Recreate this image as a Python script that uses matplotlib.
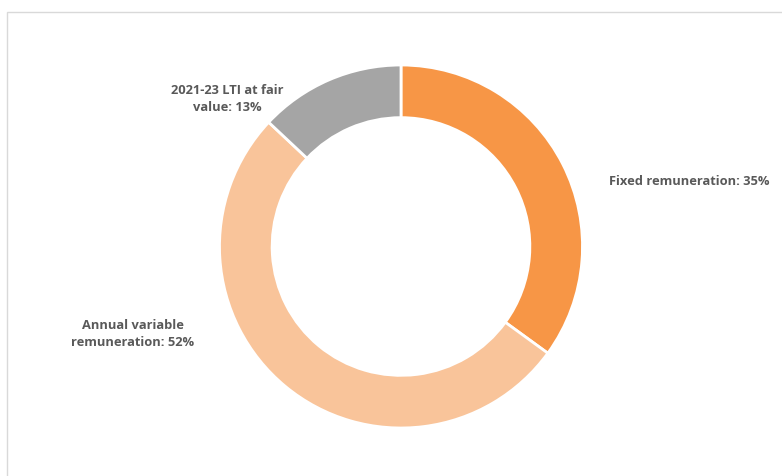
import matplotlib
matplotlib.use("Agg")
from matplotlib import pyplot as plt
from matplotlib.patches import Rectangle

# data
labels = ["Fixed remuneration: 35%", "Annual variable\nremuneration: 52%", "2021-23 LTI at fair\nvalue: 13%"]
shares = [35, 52, 13]
colors = ["#F79646", "#F9C49A", "#A5A5A5"]

W, H = 782, 476
fig = plt.figure(figsize=(W / 100, H / 100), dpi=100)
fig.patch.set_facecolor("white")

# light grey frame of the chart area
fig.patches.append(Rectangle((7 / W, -0.1), 1.0, 1.1 - 12 / H, transform=fig.transFigure,
                             fill=False, edgecolor="#D9D9D9", linewidth=1.0))

cx, cy, r = 401, 246.5, 181.5
ax = fig.add_axes([(cx - r) / W, (H - cy - r) / H, 2 * r / W, 2 * r / H])
ax.pie(shares, colors=colors, startangle=90, counterclock=False, radius=1.0,
       wedgeprops=dict(width=0.29, edgecolor="white", linewidth=2))
ax.set_xlim(-1, 1)
ax.set_ylim(-1, 1)
ax.set_aspect("equal")
ax.axis("off")

font = dict(fontsize=9.3, fontweight="bold", color="#595959", family="Open Sans",
            linespacing=1.4)
ax.text(1.146, 0.357, labels[0], ha="left", va="center", **font)
ax.text(-1.479, -0.482, labels[1], ha="center", va="center", **font)
ax.text(-0.959, 0.813, labels[2], ha="center", va="center", **font)

plt.savefig("out.png", dpi=100)
